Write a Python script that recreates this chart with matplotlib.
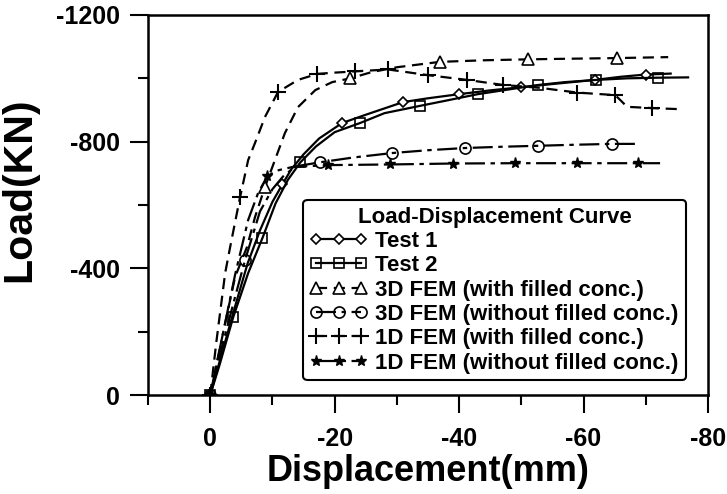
import matplotlib
matplotlib.use("Agg")
import matplotlib.pyplot as plt
from matplotlib.ticker import MultipleLocator, FixedLocator

plt.rcParams['font.family'] = ['Liberation Sans', 'DejaVu Sans']
plt.rcParams['font.weight'] = 'bold'
plt.rcParams['axes.unicode_minus'] = False

# ---- data (displacement mm, load kN) ----
test1_x = [0, -2, -4, -6, -8, -10, -11.6, -13, -15, -17.5, -21.2, -25, -28, -31, -35, -40, -45, -50, -55, -61.8, -66, -70, -74]
test1_y = [0, -140, -280, -415, -520, -610, -665, -712, -760, -810, -859, -885, -905, -925, -937, -950, -962, -972, -982, -995, -1005, -1012, -1015]
test1_mk = [0, 6, 10, 13, 15, 17, 19, 21]

test2_x = [0, -1.5, -3.7, -6.1, -8.4, -10.5, -12.5, -14.5, -17, -20, -24.1, -28, -33.7, -38, -43, -48, -52.7, -57, -62, -67, -72, -76.8]
test2_y = [0, -95, -246, -385, -496, -605, -680, -735, -785, -830, -859, -890, -913, -930, -950, -965, -979, -988, -995, -1000, -1002, -1003]
test2_mk = [0, 2, 4, 7, 10, 12, 14, 16, 18, 20]

fem3d_w_x = [0, -2, -4, -5.9, -7.2, -8.8, -10.4, -12, -14.1, -16.9, -19.6, -22.5, -26, -30, -36.9, -44, -51.1, -58, -65.4, -73.6]
fem3d_w_y = [0, -190, -373, -467, -562, -657, -742, -827, -909, -963, -988, -1000, -1020, -1035, -1052, -1057, -1060, -1062, -1064, -1067]
fem3d_w_mk = [0, 5, 11, 14, 16, 18]

fem3d_wo_x = [0, -2, -4, -5.6, -8, -10, -11.7, -13.7, -17.7, -23, -29.2, -35, -41, -47, -52.7, -58, -64.6, -69]
fem3d_wo_y = [0, -160, -310, -426, -580, -650, -690, -722, -735, -750, -764, -773, -780, -784, -787, -790, -793, -793]
fem3d_wo_mk = [0, 3, 8, 10, 12, 14, 16]

fem1d_w_x = [0, -1, -2.4, -3.2, -4.8, -6.1, -7.2, -8.8, -10.9, -14.1, -17.2, -20, -23.3, -28.6, -35, -41.3, -47.1, -53, -59, -65.1, -67, -71, -75]
fem1d_w_y = [0, -170, -385, -467, -625, -742, -796, -878, -957, -995, -1014, -1018, -1022, -1028, -1010, -995, -979, -970, -955, -947, -910, -906, -903]
fem1d_w_mk = [0, 4, 8, 10, 12, 13, 14, 15, 16, 18, 19, 21]

fem1d_wo_x = [0, -2, -4, -6.1, -7.7, -9.2, -11, -13.2, -19, -28.9, -39, -49, -59, -68.8, -72.3]
fem1d_wo_y = [0, -190, -380, -553, -638, -692, -710, -720, -726, -728, -731, -732, -732, -732, -732]
fem1d_wo_mk = [0, 5, 8, 9, 10, 11, 12, 13]

labels = ['Test 1', 'Test 2', '3D FEM (with filled conc.)', '3D FEM (without filled conc.)',
          '1D FEM (with filled conc.)', '1D FEM (without filled conc.)']
x_ticks = [0, -20, -40, -60, -80]
y_ticks = [0, -400, -800, -1200]

fig = plt.figure(figsize=(7.27, 4.94), dpi=100)
ax = fig.add_axes([148/727, 1-395/494, 560/727, 380/494])

lw = 1.6
dashed = (0, (5, 3))
dashdot = (0, (9, 2.5, 2, 2.5))
ms = 7

ax.plot(test1_x, test1_y, color='black', lw=lw, ls='-', marker='D', ms=5.5, mfc='white',
        mew=1.2, markevery=test1_mk, label=labels[0])
ax.plot(test2_x, test2_y, color='black', lw=lw, ls='-', marker='s', ms=ms, mfc='none',
        mew=1.2, markevery=test2_mk, label=labels[1])
ax.plot(fem3d_w_x, fem3d_w_y, color='black', lw=lw, ls=dashed, marker='^', ms=ms+1, mfc='white',
        mew=1.2, markevery=fem3d_w_mk, label=labels[2])
ax.plot(fem3d_wo_x, fem3d_wo_y, color='black', lw=lw, ls=dashdot, marker='o', ms=ms+1, mfc='none',
        mew=1.2, markevery=fem3d_wo_mk, label=labels[3])
ax.plot(fem1d_w_x, fem1d_w_y, color='black', lw=lw, ls=dashed, marker='+', ms=11,
        mew=1.5, markevery=fem1d_w_mk, label=labels[4])
ax.plot(fem1d_wo_x, fem1d_wo_y, color='black', lw=lw, ls=dashdot, marker='*', ms=ms+1, mfc='black',
        mew=1.0, markevery=fem1d_wo_mk, label=labels[5])

ax.set_xlim(10, -80)
ax.set_ylim(0, -1200)

ax.xaxis.set_major_locator(FixedLocator(x_ticks))
ax.xaxis.set_minor_locator(MultipleLocator(10))
ax.yaxis.set_major_locator(FixedLocator(y_ticks))
ax.yaxis.set_minor_locator(MultipleLocator(200))
ax.tick_params(which='major', direction='out', length=13, width=1.5, labelsize=18)
ax.tick_params(which='minor', direction='out', length=7, width=1.5)
ax.tick_params(axis='x', which='major', pad=10)
ax.tick_params(axis='y', which='major', pad=7)
for lab in ax.get_xticklabels() + ax.get_yticklabels():
    lab.set_fontweight('bold')
for s in ax.spines.values():
    s.set_linewidth(1.8)

ax.set_xlabel('Displacement(mm)', fontsize=26, fontweight='bold', labelpad=2)
ax.set_ylabel('Load(KN)', fontsize=29.5, fontweight='bold')
ax.yaxis.set_label_coords(-0.196, 0.54)

leg = ax.legend(loc='lower left', bbox_to_anchor=(0.277, 0.039, 0.684, 0.469), mode='expand',
                title='Load-Displacement Curve', numpoints=3, fontsize=16, title_fontsize=16,
                handlelength=2.6, handletextpad=0.35, labelspacing=0.15, borderpad=0.3,
                borderaxespad=0, fancybox=True, framealpha=1, edgecolor='black')
leg.get_frame().set_linewidth(1.5)
leg.get_title().set_fontweight('bold')
for t in leg.get_texts():
    t.set_fontweight('bold')

fig.savefig('out.png', dpi=100)
